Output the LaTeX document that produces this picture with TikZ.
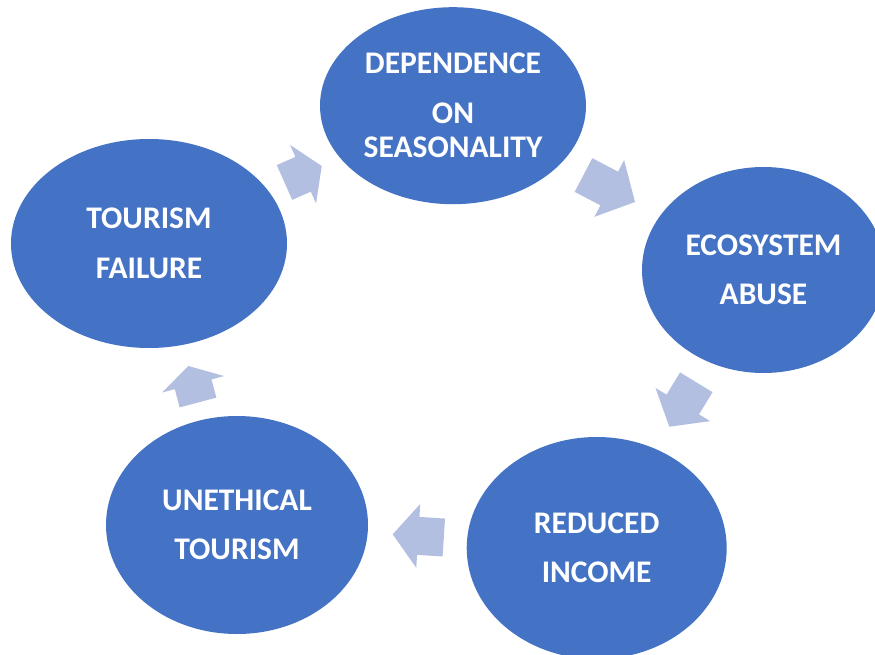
\documentclass[tikz,border=0pt]{standalone}
\usepackage{fontspec}
\setmainfont{Carlito}
\usetikzlibrary{shapes.geometric,calc}
\definecolor{cycleblue}{HTML}{4472C4}
\definecolor{arrowtint}{RGB}{178,191,224}
\tikzset{
  stage/.style={ellipse, fill=cycleblue, text=white, inner sep=0pt,
    align=center, font=\fontsize{31.5}{34}\selectfont\bfseries},
  arrowfill/.style={fill=arrowtint},
}
% block arrow from tail point #1 to tip point #2 (shaft 38pt, head 64pt wide)
\newcommand\cyclearrow[2]{%
  \coordinate (mid) at ($(#1)!0.5!(#2)$);
  \fill[arrowfill]
    ($(#1)!19pt!90:(#2)$) -- ($(mid)!19pt!90:(#2)$) -- ($(mid)!32pt!90:(#2)$)
    -- (#2)
    -- ($(mid)!32pt!-90:(#2)$) -- ($(mid)!19pt!-90:(#2)$) -- ($(#1)!19pt!-90:(#2)$)
    -- cycle;
}
\begin{document}
\begin{tikzpicture}[x=1pt,y=-1pt]
\clip (0,0) rectangle (875,655);
\fill[white] (0,0) rectangle (875,655);

% the five stages of the cycle
\node[stage, minimum width=266pt, minimum height=197pt] (dep) at (453,105.7)
  {DEPENDENCE\\[16pt]ON\\SEASONALITY};
\node[stage, minimum width=243pt, minimum height=206pt] (eco) at (763.5,270)
  {ECOSYSTEM\\[15.5pt]ABUSE};
\node[stage, minimum width=260pt, minimum height=222pt] (inc) at (596.7,548)
  {REDUCED\\[15.5pt]INCOME};
\node[stage, minimum width=262pt, minimum height=218pt] (une) at (237,525)
  {UNETHICAL\\[15.5pt]TOURISM};
\node[stage, minimum width=276pt, minimum height=209pt] (fail) at (149,243.5)
  {TOURISM\\[15.5pt]FAILURE};

% arrow ends between the stages
\coordinate (t1) at (583.5,175);   \coordinate (p1) at (635,202);
\coordinate (t2) at (696.3,382.3); \coordinate (p2) at (669.3,426.7);
\coordinate (t3) at (443.8,537.5); \coordinate (p3) at (392.7,534.3);
\coordinate (t4) at (198,402.5);   \coordinate (p4) at (188.3,366);
\coordinate (t5) at (284.5,182.5); \coordinate (p5) at (321.7,166);

\cyclearrow{t1}{p1}
\cyclearrow{t2}{p2}
\cyclearrow{t3}{p3}
\cyclearrow{t4}{p4}
\cyclearrow{t5}{p5}
\end{tikzpicture}
\end{document}
